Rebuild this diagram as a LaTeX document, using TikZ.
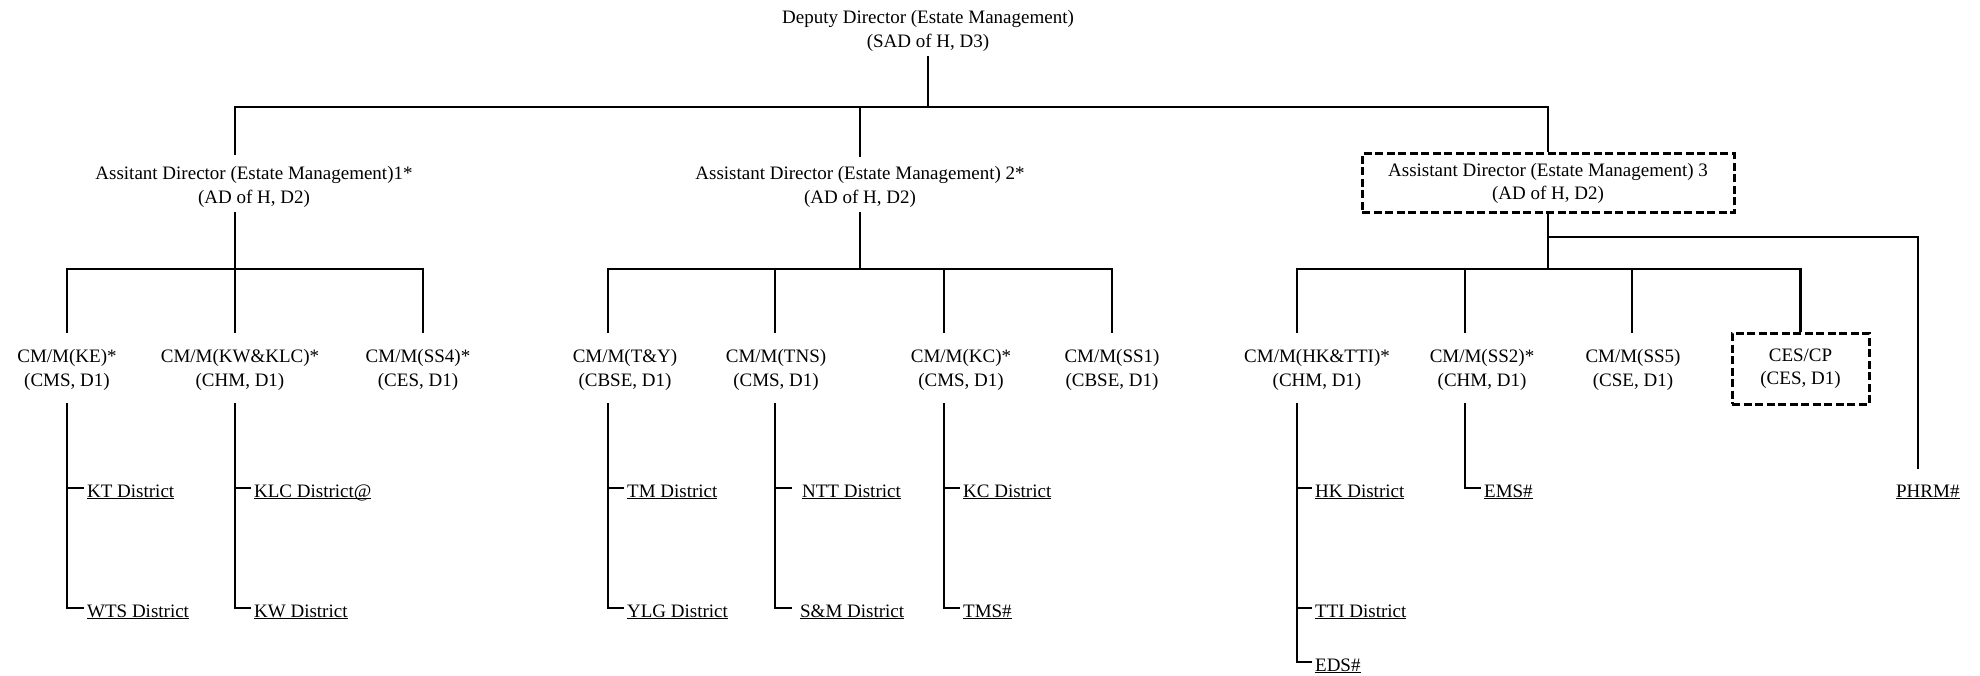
\documentclass[tikz,border=0pt]{standalone}
\usepackage{fontspec}
\setmainfont{Liberation Serif}
\begin{document}
\begin{tikzpicture}[x=1pt,y=-1pt,line width=2.3pt,
  lbl/.style={align=center,inner sep=0pt,font=\fontsize{19}{23.5}\selectfont},
  dbox/.style={lbl,draw,line width=3pt,dash pattern=on 8pt off 3.5pt},
  leaf/.style={anchor=west,inner xsep=2pt,inner ysep=0pt,text height=19pt,text depth=1pt,font=\fontsize{19}{23.5}\selectfont},
  conn/.style={line width=2.3pt}]
\useasboundingbox (0,0) rectangle (1980,676);
% top
\node[lbl] (dd) at (928,31) {Deputy Director (Estate Management)\\(SAD of H, D3)};
\node[lbl] (ad1) at (254,187) {Assitant Director (Estate Management)1*\\(AD of H, D2)};
\node[lbl] (ad2) at (860,187) {Assistant Director (Estate Management) 2*\\(AD of H, D2)};
\node[dbox,minimum width=372pt,minimum height=59pt] (ad3) at (1548,183.5) {Assistant Director (Estate Management) 3\\(AD of H, D2)};
% level 3
\node[lbl] (ke) at (67,370) {CM/M(KE)*\\(CMS, D1)};
\node[lbl] (kw) at (240,370) {CM/M(KW\&KLC)*\\(CHM, D1)};
\node[lbl] (ss4) at (418,370) {CM/M(SS4)*\\(CES, D1)};
\node[lbl] (ty) at (625,370) {CM/M(T\&Y)\\(CBSE, D1)};
\node[lbl] (tns) at (776,370) {CM/M(TNS)\\(CMS, D1)};
\node[lbl] (kc) at (961,370) {CM/M(KC)*\\(CMS, D1)};
\node[lbl] (ss1) at (1112,370) {CM/M(SS1)\\(CBSE, D1)};
\node[lbl] (hk) at (1317,370) {CM/M(HK\&TTI)*\\(CHM, D1)};
\node[lbl] (ss2) at (1482,370) {CM/M(SS2)*\\(CHM, D1)};
\node[lbl] (ss5) at (1633,370) {CM/M(SS5)\\(CSE, D1)};
\node[dbox,minimum width=137pt,minimum height=71pt] (ces) at (1800.5,368.5) {CES/CP\\(CES, D1)};
% leaves
\node[leaf] (kt) at (84,488) {\underline{KT District}};
\node[leaf] (wts) at (84,608) {\underline{WTS District}};
\node[leaf] (klc) at (251,488) {\underline{\smash{KLC District@}}};
\node[leaf] (kwd) at (251,608) {\underline{KW District}};
\node[leaf] (tm) at (624,488) {\underline{TM District}};
\node[leaf] (ylg) at (624,608) {\underline{YLG District}};
\node[leaf,inner xsep=9pt] (ntt) at (792,488) {\underline{NTT District}};
\node[leaf,inner xsep=7pt] (sm) at (792,608) {\underline{S\&M District}};
\node[leaf] (kcd) at (960,488) {\underline{KC District}};
\node[leaf] (tms) at (960,608) {\underline{TMS\#}};
\node[leaf] (hkd) at (1312,488) {\underline{HK District}};
\node[leaf] (tti) at (1312,608) {\underline{TTI District}};
\node[leaf] (eds) at (1312,662) {\underline{EDS\#}};
\node[leaf] (ems) at (1481,488) {\underline{EMS\#}};
\node[leaf] (phrm) at (1893,488) {\underline{PHRM\#}};
% junction coordinates
\coordinate (ddS) at (928,56);
\coordinate (b1) at (928,107);
\coordinate (ad1N) at (235,155);
\coordinate (ad1S) at (235,212);
\coordinate (ad2N) at (860,157);
\coordinate (ad2S) at (860,212);
\coordinate (b2) at (235,269);
\coordinate (b3) at (860,269);
\coordinate (b4) at (1548,269);
\coordinate (b5) at (1548,237);
\coordinate (phrmT) at (1918,469);
\coordinate (keN) at (67,333);   \coordinate (keS) at (67,403);
\coordinate (kwN) at (235,333);  \coordinate (kwS) at (235,403);
\coordinate (ss4N) at (423,333);
\coordinate (tyN) at (608,333);  \coordinate (tyS) at (608,403);
\coordinate (tnsN) at (775,333); \coordinate (tnsS) at (775,403);
\coordinate (kcN) at (944,333);  \coordinate (kcS) at (944,403);
\coordinate (ss1N) at (1112,333);
\coordinate (hkN) at (1297,333); \coordinate (hkS) at (1297,403);
\coordinate (ss2N) at (1465,333); \coordinate (ss2S) at (1465,403);
\coordinate (ss5N) at (1632,333);
% connectors level 1
\draw[conn] (ddS) -- (b1);
\draw[conn] (ad1N) |- (b1) -| (ad3.north);
\draw[conn] (ad2N) -- (ad2N |- b1);
% level 2
\draw[conn] (ad1S) -- (b2);
\draw[conn] (keN) |- (b2) -| (ss4N);
\draw[conn] (kwN) -- (kwN |- b2);
\draw[conn] (ad2S) -- (b3);
\draw[conn] (tyN) |- (b3) -| (ss1N);
\draw[conn] (tnsN) -- (tnsN |- b3);
\draw[conn] (kcN) -- (kcN |- b3);
\draw[conn] (ad3.south) -- (b4);
\draw[conn] (hkN) |- (b4) -| (ces.north);
\draw[conn] (ss2N) -- (ss2N |- b4);
\draw[conn] (ss5N) -- (ss5N |- b4);
\draw[conn] (b5) -| (phrmT);
% leaves
\draw[conn] (keS) |- (wts.west);
\draw[conn] (keS |- kt.west) -- (kt.west);
\draw[conn] (kwS) |- (kwd.west);
\draw[conn] (kwS |- klc.west) -- (klc.west);
\draw[conn] (tyS) |- (ylg.west);
\draw[conn] (tyS |- tm.west) -- (tm.west);
\draw[conn] (tnsS) |- (sm.west);
\draw[conn] (tnsS |- ntt.west) -- (ntt.west);
\draw[conn] (kcS) |- (tms.west);
\draw[conn] (kcS |- kcd.west) -- (kcd.west);
\draw[conn] (hkS) |- (eds.west);
\draw[conn] (hkS |- hkd.west) -- (hkd.west);
\draw[conn] (hkS |- tti.west) -- (tti.west);
\draw[conn] (ss2S) |- (ems.west);
\end{tikzpicture}
\end{document}
